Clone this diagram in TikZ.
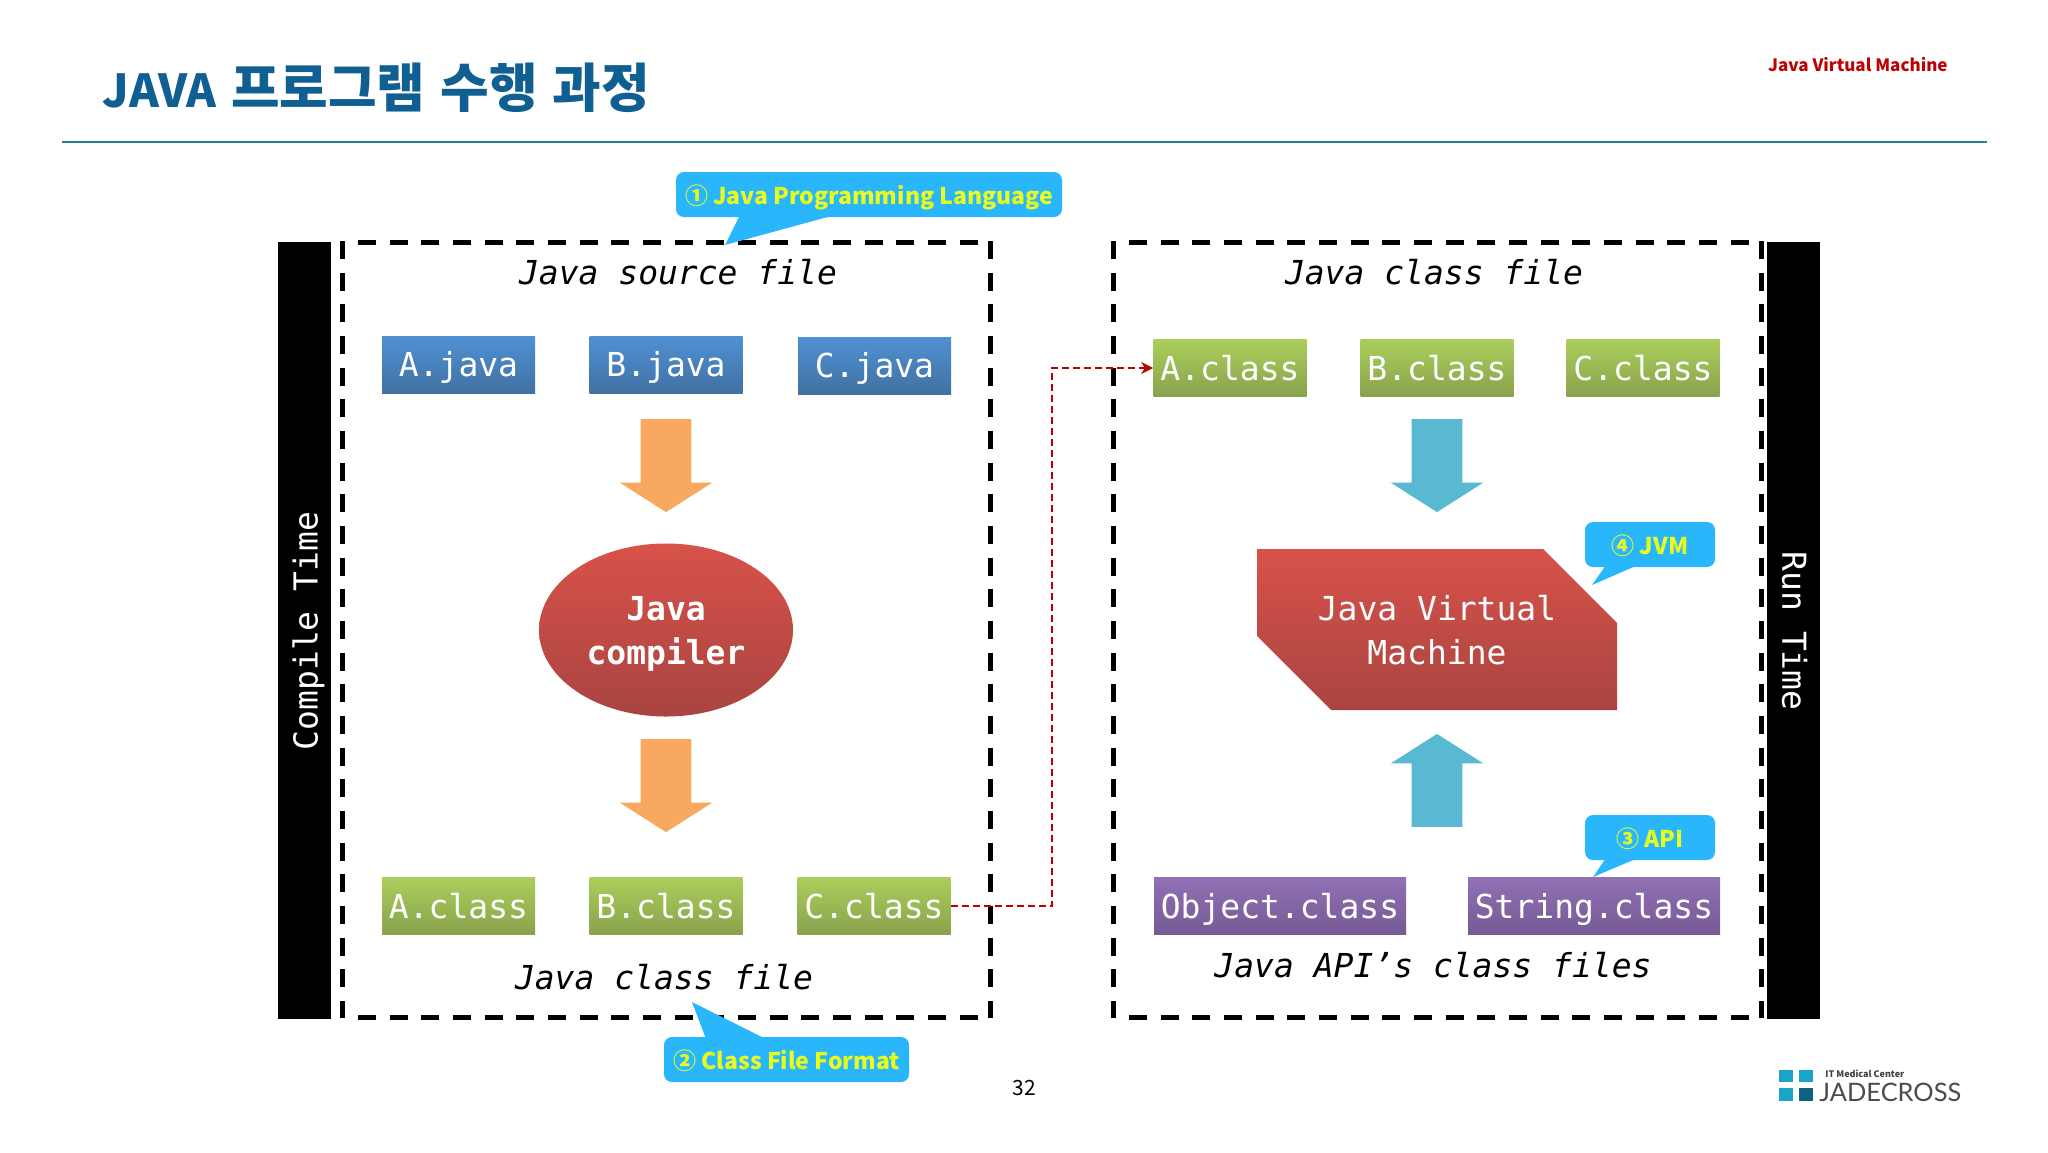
\documentclass[tikz,border=0pt]{standalone}
\usepackage{fontspec}
\setmainfont{Noto Sans CJK KR}
\setmonofont{DejaVu Sans Mono}
\newfontfamily\logofont{Lato}
\newfontfamily\titlefont{Noto Sans CJK KR}[WordSpace=1.25]
\usetikzlibrary{shapes.geometric,shapes.arrows,arrows.meta}
\definecolor{titleblue}{HTML}{0F5F92}
\definecolor{ruleteal}{HTML}{2A7F9F}
\definecolor{tipblue}{HTML}{29B6FB}
\definecolor{tipyellow}{HTML}{E8FF1E}
\definecolor{linkred}{HTML}{C00000}
\definecolor{orangearrow}{HTML}{F9A85F}
\definecolor{bluearrow}{HTML}{59B9D2}
\definecolor{blueTop}{HTML}{4F91D4}
\definecolor{blueBot}{HTML}{4171A2}
\definecolor{greenTop}{HTML}{ABCE5A}
\definecolor{greenBot}{HTML}{89A24E}
\definecolor{purpleTop}{HTML}{9170B4}
\definecolor{purpleBot}{HTML}{755A94}
\definecolor{redTop}{HTML}{D8524A}
\definecolor{redBot}{HTML}{A94440}
\definecolor{logoLight}{HTML}{1AA5C8}
\definecolor{logoDark}{HTML}{10637F}
\tikzset{
  box/.style={minimum width=76.5pt, minimum height=28.5pt, inner sep=0pt, text=white, text height=12pt, text depth=0pt, font=\ttfamily\fontsize{16.5}{22}\selectfont},
  javabox/.style={box, top color=blueTop, bottom color=blueBot},
  greenbox/.style={box, top color=greenTop, bottom color=greenBot},
  purplebox/.style={box, minimum width=126pt, top color=purpleTop, bottom color=purpleBot},
  label/.style={inner sep=0pt, font=\ttfamily\itshape\fontsize{16.5}{22}\selectfont},
  side/.style={inner sep=0pt, text=white, font=\ttfamily\fontsize{16.5}{22}\selectfont},
  frame/.style={line width=2.5pt, dash pattern=on 9pt off 6.83pt},
  bigarrow/.style={single arrow, minimum height=46.5pt, minimum width=46pt, single arrow head extend=10.5pt, single arrow tip angle=115, inner xsep=0pt, inner ysep=12.5pt, draw=none},
  tip/.style={fill=tipblue, rounded corners=4pt, inner sep=0pt, minimum height=22.5pt, text height=10pt, text depth=0pt, text=tipyellow, font=\bfseries\fontsize{11.5}{14}\selectfont},
  link/.style={draw=linkred, line width=0.7pt, dash pattern=on 3.5pt off 2pt},
}
\begin{document}
\begin{tikzpicture}[x=0.5pt, y=-0.5pt]
\useasboundingbox (0,0) rectangle (2048,1152);
\fill[white] (0,0) rectangle (2048,1152);

% title
\node (title) [anchor=west, inner sep=0pt, text=titleblue, font=\titlefont\bfseries\fontsize{26.4}{30}\selectfont] at (102,88) {{\fontsize{22.7}{28}\selectfont JAVA} 프로그램 수행 과정};
\node (chapter) [anchor=east, inner sep=0pt, text=linkred, font=\bfseries\fontsize{8.5}{11}\selectfont] at (1948,65) {Java Virtual Machine};
\draw[ruleteal, line width=1pt] (62,142) -- (1987,142);

% side bars
\fill[black] (278,242) rectangle (331,1019);
\fill[black] (1767,242) rectangle (1820,1019);
\node (compile) [side, rotate=90, text depth=0pt] at (305,631) {Compile Time};
\node (run) [side, rotate=-90, text depth=0pt] at (1795,631) {Run Time};

% dashed frames
\draw[frame] (342,241) -- (342,1018);
\draw[frame] (990,241) -- (990,1018);
\draw[frame] (358,242) -- (988,242);
\draw[frame] (358,1017) -- (988,1017);
\draw[frame] (1113,241) -- (1113,1018);
\draw[frame] (1761,241) -- (1761,1018);
\draw[frame] (1129,242) -- (1759,242);
\draw[frame] (1129,1017) -- (1759,1017);

% left panel
\node (srcLabel) [label] at (678,272) {Java source file};
\node (aJava) [javabox] at (458.5,364.5) {A.java};
\node (bJava) [javabox] at (666,364.5) {B.java};
\node (cJava) [javabox] at (874.5,365.5) {C.java};
\node (arrowA) [bigarrow, fill=orangearrow, rotate=-90] at (666,457.5) {};
\node (compiler) [ellipse, minimum width=127pt, minimum height=86.5pt, inner sep=0pt, top color=redTop, bottom color=redBot, text=white, align=center, text depth=0pt, font=\ttfamily\bfseries\fontsize{16.5}{22}\selectfont] at (666,630) {Java\\compiler};
\node (arrowB) [bigarrow, fill=orangearrow, rotate=-90] at (666,777.5) {};
\node (aLeft) [greenbox] at (458.5,906) {A.class};
\node (bLeft) [greenbox] at (666,906) {B.class};
\node (cLeft) [greenbox] at (874,906) {C.class};
\node (outLabel) [label] at (664,977) {Java class file};

% right panel
\node (clsLabel) [label] at (1434,272) {Java class file};
\node (aRight) [greenbox] at (1230,368) {A.class};
\node (bRight) [greenbox] at (1437,368) {B.class};
\node (cRight) [greenbox] at (1643,368) {C.class};
\node (arrowC) [bigarrow, fill=bluearrow, rotate=-90] at (1437,457.5) {};
\shade[top color=redTop, bottom color=redBot] (1257,549) -- (1543,549) -- (1617,623) -- (1617,710) -- (1331,710) -- (1257,636) -- cycle;
\node (jvm) [side, align=center] at (1437,630) {Java Virtual\\Machine};
\node (arrowD) [bigarrow, fill=bluearrow, rotate=90] at (1437,788.5) {};
\node (objCls) [purplebox] at (1280,906) {Object.class};
\node (strCls) [purplebox] at (1594,906) {String.class};
\node (apiLabel) [label] at (1433,965) {Java API’s class files};

% link from left panel to right panel
\coordinate (bendLow) at (1052,906);
\coordinate (bendHigh) at (1052,368);
\draw[link, -{Stealth[length=6pt,width=6pt]}] (cLeft.east) -- (bendLow) -- (bendHigh) -- (aRight.west);

% callouts
\fill[tipblue] (740,215) -- (725,245) -- (835,215) -- cycle;
\node (tipOne) [tip, minimum width=193pt] at (869,194.5) {① Java Programming Language};
\fill[tipblue] (706,1039) -- (692,1002) -- (766,1039) -- cycle;
\node (tipTwo) [tip, minimum width=122.5pt] at (786.5,1059.5) {② Class File Format};
\fill[tipblue] (1606,858) -- (1593,877) -- (1638,858) -- cycle;
\node (tipThree) [tip, minimum width=65pt] at (1650,837.5) {③ API};
\fill[tipblue] (1606,565) -- (1592,585) -- (1638,565) -- cycle;
\node (tipFour) [tip, minimum width=65pt] at (1650,544.5) {④ JVM};

% page number
\node (page) [inner sep=0pt, font=\fontsize{10.5}{12}\selectfont] at (1024,1088) {32};

% logo
\fill[logoLight] (1779,1070) rectangle (1793,1082);
\fill[logoLight] (1799,1070) rectangle (1813,1082);
\fill[logoLight] (1779,1088) rectangle (1793,1101);
\fill[logoDark] (1799,1088) rectangle (1813,1101);
\node (logoTop) [anchor=west, inner sep=0pt, font=\bfseries\fontsize{4.5}{6}\selectfont, text=black!75] at (1825,1074) {IT Medical Center};
\node (logoName) [anchor=west, inner sep=0pt, font=\logofont\fontsize{12.7}{14}\selectfont, text=black!70] at (1819,1092) {JADECROSS};
\end{tikzpicture}
\end{document}
